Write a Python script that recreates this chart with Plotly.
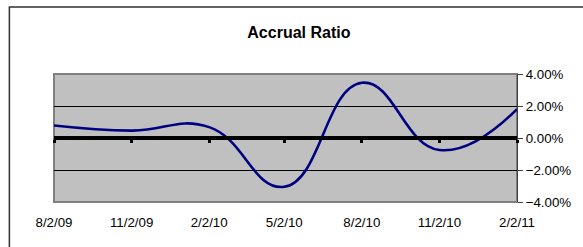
import plotly.graph_objects as go

dates = ["2009-08-02", "2009-11-02", "2010-02-02", "2010-05-02", "2010-08-02", "2010-11-02", "2011-02-02"]
accrual_ratio = [0.0078, 0.0046, 0.0068, -0.0305, 0.0345, -0.0075, 0.0180]
tick_dates = ["2009-08-02", "2009-11-02", "2010-02-02", "2010-05-02", "2010-08-02", "2010-11-02", "2011-02-02"]
tick_labels = ["8/2/09", "11/2/09", "2/2/10", "5/2/10", "8/2/10", "11/2/10", "2/2/11"]
y_ticks = [-0.04, -0.02, 0.0, 0.02, 0.04]

FONT = "Liberation Sans, Arial, sans-serif"
W, H = 583, 247
L, R, T, B = 54, 521, 74, 202

fig = go.Figure()
fig.add_trace(go.Scatter(
    x=dates, y=accrual_ratio, mode="lines",
    line=dict(color="#000080", width=2.6, shape="spline", smoothing=1.3),
    hoverinfo="skip", showlegend=False, xaxis="x", yaxis="y"))
# helper trace so the zero-crossing axis (x2) is drawn
fig.add_trace(go.Scatter(
    x=dates, y=accrual_ratio, mode="lines", line=dict(width=0),
    opacity=0, hoverinfo="skip", showlegend=False, xaxis="x2", yaxis="y"))

xr = ["2009-08-02", "2011-02-02"]
fig.update_layout(
    width=W, height=H,
    margin=dict(l=L, r=W - R, t=T, b=H - B, pad=0),
    paper_bgcolor="white", plot_bgcolor="#C0C0C0",
    font=dict(family=FONT, size=13.3, color="black"),
    title=dict(text="<b>Accrual Ratio</b>", font=dict(family=FONT, size=16, color="black"),
               x=(301 - L) / (R - L), xref="paper", xanchor="center",
               y=1 - 32.7 / H, yref="container", yanchor="middle"),
    xaxis=dict(type="date", range=xr, tickvals=tick_dates, ticktext=tick_labels,
               showgrid=False, zeroline=False, showline=False,
               ticks="outside", ticklen=8, tickcolor="rgba(0,0,0,0)",
               tickfont=dict(family=FONT, size=13.3, color="black")),
    xaxis2=dict(type="date", range=xr, overlaying="x", anchor="free", position=0.5,
                side="bottom", tickvals=tick_dates, showticklabels=False,
                showgrid=False, zeroline=False, showline=True, linecolor="black", linewidth=3.5,
                ticks="outside", ticklen=3, tickwidth=3, tickcolor="black"),
    yaxis=dict(range=[-0.04, 0.04], side="right", tickvals=y_ticks, tickformat=".2%",
               showgrid=True, gridcolor="black", gridwidth=1, zeroline=False,
               showline=True, linecolor="#404040", linewidth=1,
               ticks="outside", ticklen=5, tickcolor="#404040",
               tickfont=dict(family=FONT, size=13.3, color="black")),
)

pw, ph = R - L, B - T
# plot-area border (gray)
fig.add_shape(type="rect", xref="paper", yref="paper", x0=0, x1=1, y0=0, y1=1,
              line=dict(color="#808080", width=2), layer="below")
# chart-area outer border
fig.add_shape(type="rect", xref="paper", yref="paper",
              x0=(9 - L) / pw, x1=(600 - L) / pw,
              y0=(B - 260) / ph, y1=1 + (T - 7) / ph,
              line=dict(color="#303030", width=1.5), fillcolor="rgba(0,0,0,0)")

fig.write_html("out.html", config={"displayModeBar": False},
               post_script="document.body.style.margin='0';document.body.style.padding='0';")
